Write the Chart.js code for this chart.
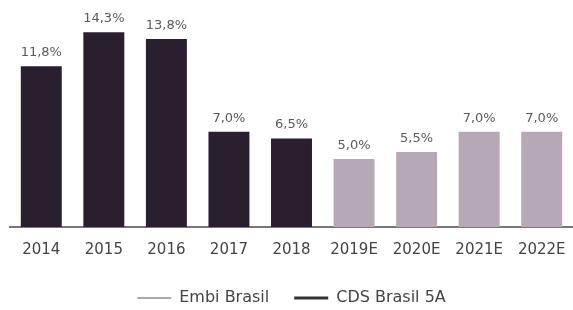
<!DOCTYPE html>
<html>
<head>
<meta charset="utf-8">
<script src="https://cdn.jsdelivr.net/npm/chart.js@4"></script>
<style>
  html, body { margin: 0; padding: 0; background: #fff; }
  #wrap { width: 573px; height: 310px; }
</style>
</head>
<body>
<div id="wrap"><canvas id="myChart"></canvas></div>
<script>
const labels = ['2014', '2015', '2016', '2017', '2018', '2019E', '2020E', '2021E', '2022E'];
const cds = [11.8, 14.3, 13.8, 7.0, 6.5, null, null, null, null];
const embi = [null, null, null, null, null, 5.0, 5.5, 7.0, 7.0];

const darkBar = '#2a1f2f';
const lightBar = '#b7a8b6';

// labels above bars, "11,8%" style
const valueLabels = {
    id: 'valueLabels',
    afterDatasetsDraw(chart) {
        const ctx = chart.ctx;
        ctx.save();
        ctx.font = '13px "DejaVu Sans"';
        ctx.fillStyle = '#5a5a5a';
        ctx.textAlign = 'center';
        ctx.textBaseline = 'alphabetic';
        chart.data.datasets.forEach((ds, i) => {
            chart.getDatasetMeta(i).data.forEach((bar, j) => {
                const v = ds.data[j];
                if (v === null) return;
                ctx.fillText(v.toFixed(1).replace('.', ',') + '%', bar.x, bar.y - 10);
            });
        });
        ctx.restore();
    }
};

new Chart(document.getElementById('myChart'), {
    type: 'bar',
    data: {
        labels: labels,
        datasets: [
            { label: 'Embi Brasil', data: embi, backgroundColor: lightBar, grouped: false,
              categoryPercentage: 0.655, barPercentage: 1 },
            { label: 'CDS Brasil 5A', data: cds, backgroundColor: darkBar, grouped: false,
              categoryPercentage: 0.655, barPercentage: 1 }
        ]
    },
    options: {
        responsive: true,
        maintainAspectRatio: false,
        animation: false,
        layout: { padding: { left: 10, right: 0, top: 9, bottom: -6 } },
        scales: {
            x: {
                grid: { display: false },
                border: { color: '#777', width: 2 },
                ticks: { color: '#444', font: { family: 'DejaVu Sans', size: 15 }, padding: 6 }
            },
            y: {
                display: false,
                min: 0,
                max: 16
            }
        },
        plugins: {
            tooltip: { enabled: false },
            legend: {
                position: 'bottom',
                labels: {
                    color: '#444',
                    font: { family: 'DejaVu Sans', size: 16 },
                    usePointStyle: true,
                    pointStyleWidth: 34,
                    padding: 25,
                    generateLabels(chart) {
                        return [
                            { text: 'Embi Brasil', pointStyle: 'line', strokeStyle: '#a8a8a8', lineWidth: 2, fillStyle: '#a8a8a8', fontColor: '#444', datasetIndex: 0 },
                            { text: 'CDS Brasil 5A', pointStyle: 'line', strokeStyle: '#333', lineWidth: 3, fillStyle: '#333', fontColor: '#444', datasetIndex: 1 }
                        ];
                    }
                }
            }
        }
    },
    plugins: [valueLabels]
});
</script>
</body>
</html>
